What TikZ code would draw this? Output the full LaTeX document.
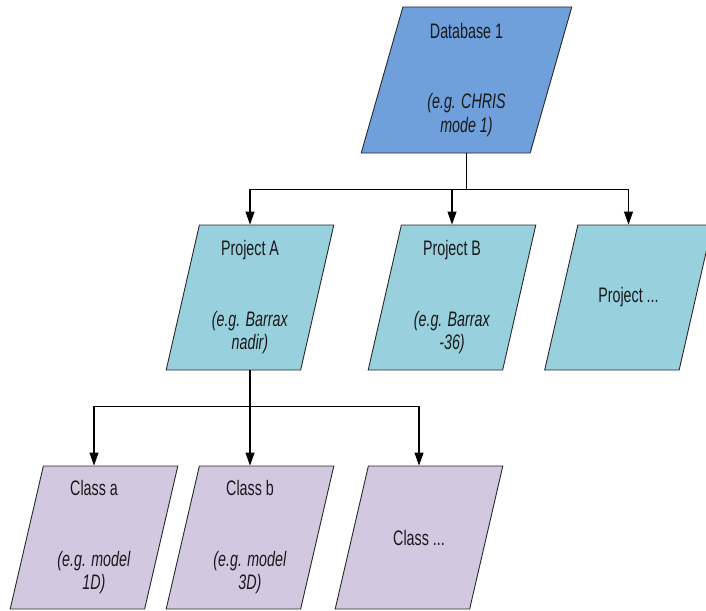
\documentclass[tikz,border=0pt]{standalone}
\usepackage{fontspec}
\usepackage{tikz}
\usepackage{xcolor}
\usetikzlibrary{shapes.geometric,arrows.meta}
\setmainfont[FakeStretch=0.68]{Liberation Sans}

\definecolor{dbblue}{RGB}{111,160,220}
\definecolor{projcyan}{RGB}{153,208,222}
\definecolor{classlilac}{RGB}{210,201,225}
\definecolor{edgegray}{RGB}{40,40,40}

\newcommand{\boxtext}[1]{\parbox[c][110pt][c]{90pt}{\centering #1}}

\tikzset{
	pbox/.style={trapezium, trapezium left angle=75, trapezium right angle=105,
		trapezium stretches=true, draw=edgegray, line width=0.9pt,
		minimum width=168, minimum height=145, inner sep=0pt,
		text=black!90, font=\fontsize{21}{23.5}\selectfont},
	dbbox/.style={pbox, fill=dbblue, minimum width=211, minimum height=146},
	projbox/.style={pbox, fill=projcyan},
	classbox/.style={pbox, fill=classlilac, minimum height=143},
	link/.style={line width=1.1pt, -{Triangle[length=13pt,width=9pt]}}
}

\begin{document}
\begin{tikzpicture}[x=1pt,y=-1pt]
			\useasboundingbox (0,0) rectangle (706,610);
			\node[dbbox] (db) at (466.5,80) {\boxtext{Database 1\\[47pt]\textit{(e.g. CHRIS}\\\textit{mode 1)}}};
			\node[projbox] (pa) at (250,297.5) {\boxtext{Project A\\[47pt]\textit{(e.g. Barrax}\\\textit{nadir)}}};
			\node[projbox] (pb) at (452,297.5) {\boxtext{Project B\\[47pt]\textit{(e.g. Barrax}\\\textit{-36)}}};
			\node[projbox] (pc) at (628.5,297.5) {\boxtext{Project ...}};
			\node[classbox] (ca) at (94,537.5) {\boxtext{Class a\\[47pt]\textit{(e.g. model}\\\textit{1D)}}};
			\node[classbox] (cb) at (250,537.5) {\boxtext{Class b\\[47pt]\textit{(e.g. model}\\\textit{3D)}}};
			\node[classbox] (cc) at (419,537.5) {\boxtext{Class ...}};
			\foreach \p in {pa, pb, pc} {
				\draw[link] (db.south) -- ++(0,36) -| (\p.north);
			};
			\foreach \c in {ca, cb, cc} {
				\draw[link] (pa.south) -- ++(0,36) -| (\c.north);
			};
		\end{tikzpicture}
\end{document}
